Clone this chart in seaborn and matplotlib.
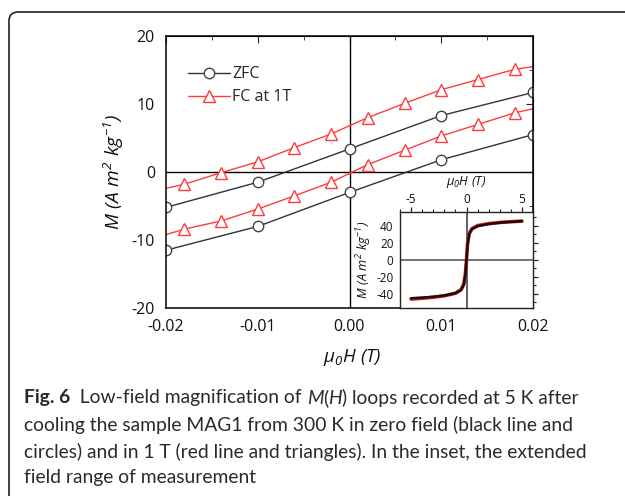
import matplotlib
matplotlib.use("Agg")
import matplotlib.pyplot as plt
import matplotlib.patches as mpatches
from matplotlib.lines import Line2D
from matplotlib.ticker import MultipleLocator
from matplotlib.transforms import IdentityTransform
import seaborn as sns
import pandas as pd

# ---------------- data ----------------
zfc_h = [-0.02, -0.01, 0.0, 0.01, 0.02]
zfc_upper = [-5.2, -1.5, 3.4, 8.3, 11.7]
zfc_lower = [-11.5, -8.0, -3.0, 1.8, 5.5]

fc_h = [-0.02, -0.018, -0.014, -0.010, -0.006, -0.002, 0.002, 0.006, 0.010, 0.014, 0.018, 0.02]
fc_upper = [-2.4, -1.8, -0.1, 1.5, 3.6, 5.6, 8.0, 10.1, 12.1, 13.6, 15.1, 15.5]
fc_lower = [-9.2, -8.4, -7.2, -5.45, -3.5, -1.5, 1.1, 3.2, 5.3, 7.0, 8.7, 9.3]

inset_h = [-5, -4, -3, -2, -1, -0.5, -0.25, -0.1, 0, 0.1, 0.25, 0.5, 1, 2, 3, 4, 5]
inset_zfc = [-45.5, -44.8, -43.8, -42.3, -39.5, -36, -30, -18, 0, 18, 30, 36, 39.5, 42, 43.5, 44.5, 45.3]
inset_fc = [-46.5, -45.5, -44.3, -42.6, -39.6, -35.5, -29, -17, 0, 19, 31, 36.5, 40, 42.3, 43.7, 44.6, 45.3]

series_labels = ["ZFC", "FC at 1T"]
x_ticks = [-0.02, -0.01, 0.0, 0.01, 0.02]
x_ticklabels = ["-0.02", "-0.01", "0.00", "0.01", "0.02"]
y_ticks = [-20, -10, 0, 10, 20]
inset_xticks = [-5, 0, 5]
inset_yticks = [-40, -20, 0, 20, 40]

caption_lines = [
    [("Fig. 6", "bold"), ("  Low-field magnification of ", "normal"), ("M", "italic"),
     ("(", "normal"), ("H", "italic"), (") loops recorded at 5 K after", "normal")],
    [("cooling the sample MAG1 from 300 K in zero field (black line and", "normal")],
    [("circles) and in 1 T (red line and triangles). In the inset, the extended", "normal")],
    [("field range of measurement", "normal")],
]

# ---------------- style ----------------
sns.set_style("white")
plt.rcParams["font.family"] = ["Open Sans", "DejaVu Sans"]
plt.rcParams["axes.unicode_minus"] = False
plt.rcParams["mathtext.fontset"] = "custom"
plt.rcParams["mathtext.rm"] = "Open Sans:italic"
plt.rcParams["mathtext.it"] = "Open Sans:italic"
plt.rcParams["mathtext.bf"] = "Open Sans:bold"

BLACK = "#333333"
RED = "#ff3b3b"

fig = plt.figure(figsize=(6.25, 4.96), dpi=100)
fig.patch.set_facecolor("white")

# frame
frame = mpatches.FancyBboxPatch((9, -8), 660, 492, boxstyle="round,pad=0,rounding_size=9",
                                transform=IdentityTransform(), fill=False,
                                edgecolor="#222222", linewidth=1.2)
fig.add_artist(frame)

ax = fig.add_axes([0.2656, 0.379, 0.5872, 0.5484])
ax.set_facecolor("white")

ax.axhline(0, color="black", linewidth=1.0, zorder=1)
ax.axvline(0, color="black", linewidth=1.0, zorder=1)

zfc_df_u = pd.DataFrame({"h": zfc_h, "m": zfc_upper})
zfc_df_l = pd.DataFrame({"h": zfc_h, "m": zfc_lower})
fc_df_u = pd.DataFrame({"h": fc_h, "m": fc_upper})
fc_df_l = pd.DataFrame({"h": fc_h, "m": fc_lower})

circ_kw = dict(color=BLACK, linewidth=1.0, marker="o", markersize=7.5,
               markerfacecolor="white", markeredgecolor="#444444", markeredgewidth=1.0)
tri_kw = dict(color=RED, linewidth=1.0, marker="^", markersize=8.5,
              markerfacecolor="white", markeredgecolor=RED, markeredgewidth=1.0,
              markevery=list(range(1, len(fc_h) - 1)))

for df in (zfc_df_u, zfc_df_l):
    sns.lineplot(data=df, x="h", y="m", ax=ax, sort=False, estimator=None, legend=False, **circ_kw)
for df in (fc_df_u, fc_df_l):
    sns.lineplot(data=df, x="h", y="m", ax=ax, sort=False, estimator=None, legend=False, **tri_kw)

ax.set_xlim(-0.02, 0.02)
ax.set_ylim(-20, 20)
ax.set_xticks(x_ticks)
ax.set_xticklabels(x_ticklabels)
ax.set_yticks(y_ticks)
ax.xaxis.set_minor_locator(MultipleLocator(0.005))
ax.yaxis.set_minor_locator(MultipleLocator(5))
ax.tick_params(axis="both", which="major", direction="out", length=5, width=1,
               labelsize=11.5, pad=3, color="black", labelcolor="#111111")
ax.tick_params(axis="both", which="minor", direction="out", length=3, width=1, color="black")
ax.set_xlabel("")
ax.set_ylabel("")
for s in ax.spines.values():
    s.set_visible(True)
    s.set_color("black")
    s.set_linewidth(1.1)

# mirror ticks inward on top/right
secx = ax.secondary_xaxis("top")
secx.set_xticks(x_ticks)
secx.xaxis.set_minor_locator(MultipleLocator(0.005))
secx.tick_params(which="major", direction="in", length=5, labeltop=False)
secx.tick_params(which="minor", direction="in", length=3)
secx.set_xticklabels([])
secy = ax.secondary_yaxis("right")
secy.set_yticks(y_ticks)
secy.yaxis.set_minor_locator(MultipleLocator(5))
secy.tick_params(which="major", direction="in", length=5)
secy.tick_params(which="minor", direction="in", length=3)
secy.set_yticklabels([])

handles = [Line2D([], [], **{k: v for k, v in circ_kw.items()}),
           Line2D([], [], **{k: v for k, v in tri_kw.items() if k != "markevery"})]
ax.legend(handles, series_labels, loc="upper left", bbox_to_anchor=(0.03, 0.93),
          frameon=False, fontsize=11.5, handlelength=2.6, handletextpad=0.15,
          labelspacing=0.45, borderpad=0.2)

fig.text(352 / 625, 1 - 357 / 496, r"$\mu_0H\ (T)$", ha="center", va="center", fontsize=13.5,
         color="#111111")
fig.text(114 / 625, 1 - 172 / 496, r"$M\ (A\ m^2\ kg^{-1})$", ha="center", va="center",
         rotation=90, fontsize=13.8, color="#111111")

# ---------------- inset ----------------
ins = fig.add_axes([0.64, 0.379, 0.2128, 0.1935])
ins.set_facecolor("white")
ins.set_zorder(5)
ins.axhline(0, color="#666666", linewidth=1.3, zorder=1)
ins.axvline(0, color="#555555", linewidth=1.3, zorder=1)
sns.lineplot(x=inset_h, y=inset_fc, ax=ins, color="#ee1111", linewidth=2.6, sort=False,
             estimator=None, legend=False)
sns.lineplot(x=inset_h, y=inset_zfc, ax=ins, color="#111111", linewidth=1.8, sort=False,
             estimator=None, legend=False)
ins.set_xlim(-6, 6)
ins.set_ylim(-57, 56)
ins.set_xticks(inset_xticks)
ins.set_yticks(inset_yticks)
ins.xaxis.set_minor_locator(MultipleLocator(1))
ins.yaxis.set_minor_locator(MultipleLocator(10))
ins.xaxis.tick_top()
ins.tick_params(axis="both", which="major", direction="out", length=3.5, width=0.9,
                labelsize=8.5, pad=1.2, color="#222222", labelcolor="#111111")
ins.tick_params(axis="both", which="minor", direction="out", length=2, width=0.8, color="#222222")
ins.tick_params(axis="y", which="both", right=True, labelright=False)
for s in ins.spines.values():
    s.set_visible(True)
    s.set_color("#222222")
    s.set_linewidth(1.0)
ins.set_xlabel("")
ins.set_ylabel("")
fig.text(466 / 625, 1 - 182 / 496, r"$\mu_0H\ (T)$", ha="center", va="center", fontsize=9.2,
         color="#111111")
fig.text(364 / 625, 1 - 260 / 496, r"$M\ (A\ m^2\ kg^{-1})$", ha="center", va="center",
         rotation=90, fontsize=9.2, color="#111111")

# ---------------- caption ----------------
fig.canvas.draw()
renderer = fig.canvas.get_renderer()
line_y = [398, 425, 452, 478]
cap_size = 13.9
for pieces, yp in zip(caption_lines, line_y):
    x = 24.0
    for txt, style in pieces:
        kw = {}
        if style == "bold":
            kw["fontweight"] = "bold"
        elif style == "italic":
            kw["fontstyle"] = "italic"
        t = fig.text(x / 625, 1 - yp / 496, txt, ha="left", va="center", fontsize=cap_size,
                     color="#2a2a2a", family=["Lato", "DejaVu Sans"], **kw)
        bb = t.get_window_extent(renderer=renderer)
        x += bb.width

fig.savefig("out.png", dpi=100, facecolor="white")
